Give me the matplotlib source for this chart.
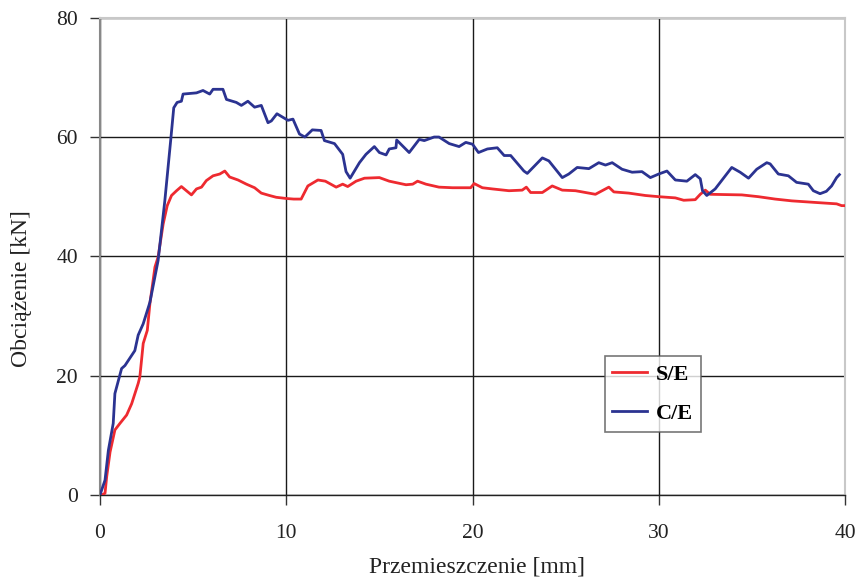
import matplotlib
matplotlib.use("Agg")
import matplotlib.pyplot as plt

# S/E specimen: displacement [mm] and load [kN]
se_x = [0.0, 0.09, 0.27, 0.36, 0.54, 0.8, 1.07, 1.43, 1.7, 2.05, 2.14, 2.32, 2.54, 2.68,
        2.95, 3.12, 3.39, 3.61, 3.84, 4.11, 4.37, 4.64, 4.91, 5.18, 5.45, 5.71, 6.07, 6.43,
        6.7, 6.96, 7.41, 7.86, 8.3, 8.66, 9.1, 9.46, 10.0, 10.4, 10.8, 11.16, 11.7, 12.1,
        12.68, 13.03, 13.3, 13.75, 14.2, 15.0, 15.53, 16.43, 16.79, 17.05, 17.5, 18.2,
        18.93, 19.9, 20.09, 20.53, 21.07, 21.96, 22.67, 22.89, 23.12, 23.75, 24.28, 24.82,
        25.53, 25.89, 26.6, 27.32, 27.59, 28.39, 29.28, 30.0, 30.89, 31.34, 31.96, 32.23,
        32.5, 32.76, 34.46, 35.35, 36.25, 37.14, 38.57, 39.55, 39.82, 40.0]
se_y = [0.0, 0.0, 0.3, 3.1, 7.2, 10.9, 12.0, 13.4, 15.3, 18.7, 19.8, 25.4, 27.6, 32.1,
        38.2, 39.9, 45.4, 48.5, 50.2, 51.0, 51.7, 51.0, 50.3, 51.3, 51.6, 52.7, 53.5, 53.8,
        54.3, 53.3, 52.8, 52.1, 51.5, 50.6, 50.2, 49.9, 49.7, 49.6, 49.6, 51.8, 52.8, 52.6,
        51.6, 52.1, 51.7, 52.6, 53.1, 53.2, 52.6, 52.0, 52.1, 52.6, 52.1, 51.6,
        51.5, 51.5, 52.2, 51.5, 51.3, 51.0, 51.1, 51.6, 50.7, 50.7, 51.8, 51.1,
        51.0, 50.8, 50.4, 51.6, 50.8, 50.6, 50.2, 50.0, 49.8, 49.4, 49.5, 50.4,
        51.1, 50.4, 50.3, 50.0, 49.6, 49.3, 49.0, 48.8, 48.5, 48.5]

# C/E specimen: displacement [mm] and load [kN]
ce_x = [0.0, 0.27, 0.45, 0.71, 0.8, 1.16, 1.34, 1.87, 2.05, 2.32, 2.68, 3.12, 3.48, 3.8,
        3.96, 4.14, 4.37, 4.46, 5.18, 5.53, 5.89, 6.07, 6.6, 6.79, 7.32, 7.59, 7.94, 8.3,
        8.66, 9.02, 9.2, 9.5, 10.09, 10.36, 10.71, 11.0, 11.4, 11.87, 12.05, 12.59, 13.03,
        13.21, 13.43, 13.93, 14.28, 14.73, 15.0, 15.36, 15.53, 15.89, 15.93, 16.6, 17.14,
        17.41, 17.94, 18.2, 18.75, 19.28, 19.64, 20.0, 20.32, 20.8, 21.33, 21.7, 22.05,
        22.76, 22.94, 23.75, 24.1, 24.82, 25.17, 25.62, 26.25, 26.78, 27.14, 27.5, 28.03,
        28.57, 29.1, 29.55, 30.0, 30.44, 30.89, 31.51, 31.96, 32.23, 32.35, 32.58, 33.03,
        33.92, 34.37, 34.82, 35.26, 35.8, 35.98, 36.42, 36.96, 37.4, 38.03, 38.3, 38.66,
        39.0, 39.28, 39.55, 39.7]
ce_y = [0.0, 2.5, 7.5, 12.0, 17.0, 21.2, 21.7, 24.2, 26.8, 28.7, 32.3, 39.3, 49.3, 59.6,
        64.9, 65.8, 66.0, 67.2, 67.4, 67.8, 67.2, 68.0, 68.0, 66.3, 65.8, 65.3, 66.0, 65.0,
        65.3, 62.4, 62.7, 63.9, 62.8, 63.0, 60.5, 60.0, 61.2, 61.1, 59.4, 58.9, 57.1,
        54.2, 53.1, 55.7, 57.1, 58.4, 57.4, 57.0, 58.0, 58.2, 59.5, 57.4, 59.6,
        59.4, 60.0, 60.0, 58.9, 58.4, 59.1, 58.8, 57.4, 58.0, 58.2, 56.9, 56.9,
        54.3, 53.9, 56.5, 56.0, 53.2, 53.8, 54.9, 54.7, 55.7, 55.3, 55.7, 54.6,
        54.1, 54.2, 53.2, 53.8, 54.3, 52.8, 52.6, 53.7, 53.0, 51.0, 50.2, 51.3,
        54.9, 54.1, 53.1, 54.6, 55.7, 55.5, 53.8, 53.5, 52.4, 52.1, 51.0, 50.5,
        50.9, 51.8, 53.2, 53.7]

x_ticks = [0, 10, 20, 30, 40]
y_ticks = [0, 20, 40, 60, 80]
series_names = ["S/E", "C/E"]
x_label = "Przemieszczenie [mm]"
y_label = "Obciążenie [kN]"

serif = ["Liberation Serif", "DejaVu Serif"]

fig = plt.figure(figsize=(8.59, 5.79), dpi=100)
ax = fig.add_axes([100 / 859, 84 / 579, 745 / 859, 477.3 / 579])

ax.plot(se_x, se_y, color="#ee2a30", lw=2.0, label=series_names[0], zorder=3)
ax.plot(ce_x, ce_y, color="#2b3391", lw=2.0, label=series_names[1], zorder=4)

ax.set_xlim(0, 40)
ax.set_ylim(0, 80)
ax.set_xticks(x_ticks)
ax.set_yticks(y_ticks)
ax.grid(True, color="#1a1a1a", lw=1.0, zorder=1)
ax.set_axisbelow(True)

for side in ("top", "right"):
    ax.spines[side].set_color("#c8c8c8")
    ax.spines[side].set_linewidth(1.5)
ax.spines["left"].set_color("#888888")
ax.spines["left"].set_linewidth(1.5)
ax.spines["bottom"].set_color("#222222")
ax.spines["bottom"].set_linewidth(1.0)

ax.tick_params(axis="both", direction="out", length=7, width=1.0, color="#333333",
               labelsize=15.5, labelcolor="#222222")
ax.tick_params(axis="x", pad=14)
ax.tick_params(axis="y", pad=9)
for lab in ax.get_xticklabels() + ax.get_yticklabels():
    lab.set_family(serif)

ax.set_xlabel(x_label, family=serif, fontsize=17, color="#222222")
ax.set_ylabel(y_label, family=serif, fontsize=17, color="#222222")
ax.xaxis.set_label_coords(0.5067, -0.128)
ax.yaxis.set_label_coords(-0.091, 0.4327)

leg = ax.legend(loc="center", bbox_to_anchor=(0.7419, 0.2112), frameon=True,
                fancybox=False, edgecolor="#555555", handlelength=1.55,
                handletextpad=0.4, labelspacing=0.85, borderpad=0.35,
                borderaxespad=0.0,
                prop={"family": serif, "weight": "bold", "size": 16})
leg.get_frame().set_linewidth(1.2)
leg.set_zorder(5)

fig.savefig("out.png", dpi=100, facecolor="white")
